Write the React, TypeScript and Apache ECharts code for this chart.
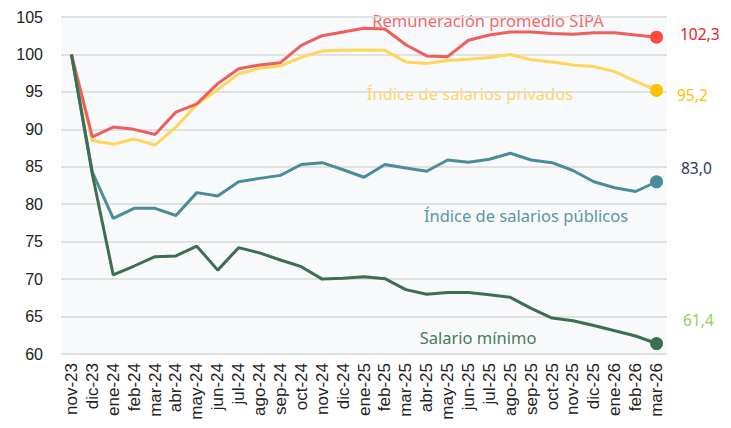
import React, { useEffect, useRef } from "react";
import * as echarts from "echarts";

const categories = [
  "nov-23", "dic-23", "ene-24", "feb-24", "mar-24", "abr-24", "may-24", "jun-24", "jul-24", "ago-24",
  "sep-24", "oct-24", "nov-24", "dic-24", "ene-25", "feb-25", "mar-25", "abr-25", "may-25", "jun-25",
  "jul-25", "ago-25", "sep-25", "oct-25", "nov-25", "dic-25", "ene-26", "feb-26", "mar-26",
];

const remuneracionSIPA = [
  100, 89.0, 90.3, 90.0, 89.3, 92.3, 93.4, 96.1, 98.1, 98.6,
  98.9, 101.2, 102.5, 103.0, 103.5, 103.4, 101.3, 99.8, 99.7, 101.9,
  102.6, 103.0, 103.0, 102.8, 102.7, 102.9, 102.9, 102.6, 102.3,
];
const salariosPrivados = [
  100, 88.5, 88.0, 88.7, 87.9, 90.3, 93.3, 95.3, 97.4, 98.15,
  98.45, 99.6, 100.45, 100.55, 100.6, 100.55, 99.0, 98.8, 99.2, 99.35,
  99.6, 100.0, 99.3, 99.0, 98.6, 98.4, 97.7, 96.4, 95.2,
];
const salariosPublicos = [
  100, 84.3, 78.1, 79.45, 79.45, 78.5, 81.55, 81.1, 83.0, 83.45,
  83.85, 85.3, 85.55, 84.6, 83.6, 85.3, 84.85, 84.4, 85.9, 85.6,
  86.0, 86.8, 85.9, 85.55, 84.5, 83.0, 82.2, 81.7, 83.0,
];
const salarioMinimo = [
  100, 84.0, 70.55, 71.75, 73.0, 73.1, 74.4, 71.2, 74.2, 73.5,
  72.55, 71.66, 70.0, 70.1, 70.33, 70.06, 68.6, 67.97, 68.2, 68.2,
  67.9, 67.57, 66.1, 64.8, 64.45, 63.8, 63.1, 62.4, 61.4,
];

const seriesNames = [
  "Índice de salarios privados",
  "Remuneración promedio SIPA",
  "Índice de salarios públicos",
  "Salario mínimo",
];

const yMin = 60;
const yMax = 105;
const yInterval = 5;

const fmt = (v: number) => v.toFixed(1).replace(".", ",");

export default function App() {
  const ref = useRef<HTMLDivElement>(null);

  useEffect(() => {
    if (!ref.current) return;
    const chart = echarts.init(ref.current, null, { renderer: "svg" });
    const last = categories.length - 1;
    const labelFont = "'Noto Sans', sans-serif";

    const mkSeries = (name: string, data: number[], lineColor: string, markerColor: string, z: number) => ({
      name,
      type: "line",
      data,
      z,
      symbol: "circle",
      showSymbol: true,
      showAllSymbol: true,
      symbolSize: (_v: any, p: any) => (p.dataIndex === last ? 13 : 0),
      lineStyle: { color: lineColor, width: 3 },
      itemStyle: { color: markerColor },
      emphasis: { disabled: true },
    });

    const nameText = (text: string, x: number, y: number, fill: string) => ({
      type: "text",
      x,
      y,
      style: { text, fill, font: `16.5px ${labelFont}`, textAlign: "center", textVerticalAlign: "middle" },
    });
    const valueText = (text: string, x: number, y: number, fill: string) => ({
      type: "text",
      x,
      y,
      style: { text, fill, font: `15.5px ${labelFont}`, textAlign: "left", textVerticalAlign: "middle" },
    });

    chart.setOption({
      animation: false,
      grid: {
        left: 61,
        right: 64,
        top: 17,
        bottom: 74,
        show: true,
        backgroundColor: "#f8f9fb",
        borderWidth: 0,
      },
      xAxis: {
        type: "category",
        data: categories,
        boundaryGap: true,
        axisLine: { show: false },
        axisTick: { show: false },
        axisLabel: {
          rotate: 90,
          interval: 0,
          margin: 9,
          fontSize: 17,
          color: "#222",
          fontFamily: "'Liberation Sans', Arial, sans-serif",
        },
      },
      yAxis: {
        type: "value",
        min: yMin,
        max: yMax,
        interval: yInterval,
        axisLine: { show: false },
        axisTick: { show: false },
        splitLine: { lineStyle: { color: "#d9d9d9", width: 1.5 } },
        axisLabel: {
          margin: 18,
          fontSize: 16,
          color: "#222",
          fontFamily: "'Liberation Sans', Arial, sans-serif",
        },
      },
      series: [
        mkSeries(seriesNames[0], salariosPrivados, "#ffd65a", "#ffc000", 2),
        mkSeries(seriesNames[1], remuneracionSIPA, "#ee5e5e", "#ff4b3e", 3),
        mkSeries(seriesNames[2], salariosPublicos, "#4a8c98", "#4a8c98", 4),
        mkSeries(seriesNames[3], salarioMinimo, "#3e6d50", "#3e6d50", 5),
      ],
      graphic: [
        nameText(seriesNames[1], 488, 20, "#ee6b6b"),
        nameText(seriesNames[0], 470, 93, "#ffd660"),
        nameText(seriesNames[2], 526, 215, "#5a97a0"),
        nameText(seriesNames[3], 478, 337, "#4a7a5a"),
        valueText(fmt(remuneracionSIPA[last]), 680, 34, "#e8202a"),
        valueText(fmt(salariosPrivados[last]), 677, 95, "#ffc000"),
        valueText(fmt(salariosPublicos[last]), 681, 168, "#26386b"),
        valueText(fmt(salarioMinimo[last]), 683, 320, "#8fd15a"),
      ],
    });

    return () => chart.dispose();
  }, []);

  return (
    <div
      ref={ref}
      style={{ position: "fixed", left: 0, top: 0, width: 731, height: 428, background: "#ffffff" }}
    />
  );
}
